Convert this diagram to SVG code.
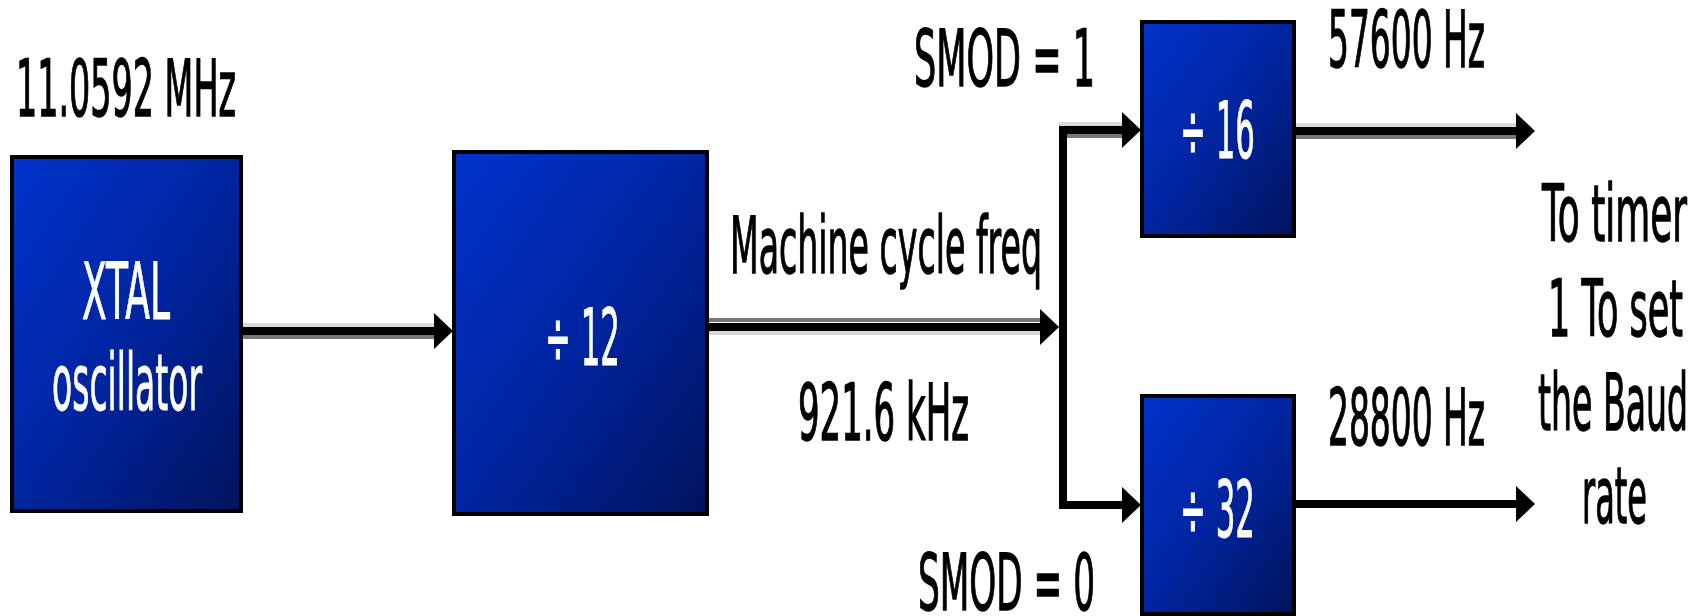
<svg xmlns="http://www.w3.org/2000/svg" width="1707" height="616" viewBox="0 0 1707 616">
<defs>
<linearGradient id="g" x1="0" y1="0" x2="1" y2="1">
<stop offset="0" stop-color="#0033cc"/>
<stop offset="0.5" stop-color="#0025a0"/>
<stop offset="1" stop-color="#00135a"/>
</linearGradient>
<style>
.box{fill:url(#g);stroke:#000;stroke-width:4}
.t{font-family:"DejaVu Sans","Liberation Sans",sans-serif;font-size:78px;fill:#000;stroke:#000;stroke-width:1.4}
.w{fill:#fff;stroke:#fff;stroke-width:1}
.ln{stroke:#000;stroke-width:8;fill:none}
.lg{stroke:#d8d8d8;stroke-width:4;fill:none}
.dg{stroke:#777;stroke-width:4;fill:none}
.ah{fill:#000}
</style>
</defs>
<rect width="1707" height="616" fill="#fff"/>
<g id="connectors">
<line class="lg" x1="242" y1="325" x2="436" y2="325"/>
<line class="dg" x1="242" y1="337" x2="436" y2="337"/>
<line class="ln" x1="242" y1="331" x2="438" y2="331"/>
<polygon class="ah" points="434,313 453,331 434,349"/>
<line class="dg" x1="708" y1="320" x2="1042" y2="320"/>
<line class="lg" x1="708" y1="333" x2="1042" y2="333"/>
<line class="ln" x1="708" y1="327" x2="1044" y2="327"/>
<polygon class="ah" points="1040,309 1059,327 1040,345"/>
<line class="lg" x1="1059" y1="124" x2="1124" y2="124"/>
<line class="dg" x1="1067" y1="136" x2="1124" y2="136"/>
<path class="ln" d="M1126,130 H1063 V505 H1126"/>
<polygon class="ah" points="1122,112 1141,130 1122,148"/>
<polygon class="ah" points="1122,487 1141,505 1122,523"/>
<line class="lg" x1="1295" y1="125" x2="1519" y2="125"/>
<line class="dg" x1="1295" y1="137" x2="1519" y2="137"/>
<line class="ln" x1="1295" y1="131" x2="1520" y2="131"/>
<polygon class="ah" points="1516,113 1535,131 1516,149"/>
<line class="ln" x1="1295" y1="504" x2="1520" y2="504"/>
<polygon class="ah" points="1516,486 1535,504 1516,522"/>
</g>
<g id="xtal">
<rect class="box" x="12" y="157" width="229" height="354"/>
<text class="t w" x="82" y="319" textLength="88" lengthAdjust="spacingAndGlyphs">XTAL</text>
<text class="t w" x="52" y="410" textLength="150" lengthAdjust="spacingAndGlyphs">oscillator</text>
</g>
<g id="div12">
<rect class="box" x="454" y="152" width="253" height="362"/>
<text class="t w" x="545" y="365" textLength="75" lengthAdjust="spacingAndGlyphs">÷ 12</text>
</g>
<g id="div16">
<rect class="box" x="1142" y="22" width="152" height="214"/>
<text class="t w" x="1180" y="158" textLength="75" lengthAdjust="spacingAndGlyphs">÷ 16</text>
</g>
<g id="div32">
<rect class="box" x="1142" y="396" width="152" height="218"/>
<text class="t w" x="1180" y="537" textLength="75" lengthAdjust="spacingAndGlyphs">÷ 32</text>
</g>
<g id="labels">
<text class="t" x="16" y="116" textLength="220" lengthAdjust="spacingAndGlyphs">11.0592 MHz</text>
<text class="t" x="730" y="273" textLength="312" lengthAdjust="spacingAndGlyphs">Machine cycle freq</text>
<text class="t" x="798" y="440" textLength="171" lengthAdjust="spacingAndGlyphs">921.6 kHz</text>
<text class="t" x="914" y="86" textLength="181" lengthAdjust="spacingAndGlyphs">SMOD = 1</text>
<text class="t" x="918" y="610" textLength="177" lengthAdjust="spacingAndGlyphs">SMOD = 0</text>
<text class="t" x="1328" y="67" textLength="157" lengthAdjust="spacingAndGlyphs">57600 Hz</text>
<text class="t" x="1328" y="445" textLength="157" lengthAdjust="spacingAndGlyphs">28800 Hz</text>
<text class="t" x="1542" y="241" textLength="145" lengthAdjust="spacingAndGlyphs">To timer</text>
<text class="t" x="1548" y="336" textLength="135" lengthAdjust="spacingAndGlyphs">1 To set</text>
<text class="t" x="1538" y="430" textLength="150" lengthAdjust="spacingAndGlyphs">the Baud</text>
<text class="t" x="1582" y="523" textLength="65" lengthAdjust="spacingAndGlyphs">rate</text>
</g>
</svg>
